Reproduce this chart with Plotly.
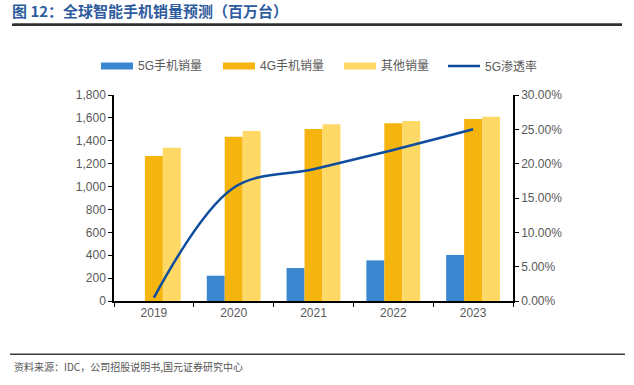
import plotly.graph_objects as go

years = ["2019", "2020", "2021", "2022", "2023"]
sales_5g = [0, 221, 288, 355, 402]
sales_4g = [1267, 1436, 1503, 1553, 1590]
sales_other = [1340, 1485, 1544, 1573, 1610]
pen_5g = [0.005, 0.165, 0.192, 0.220, 0.250]

names = ["5G手机销量", "4G手机销量", "其他销量", "5G渗透率"]
colors = ["#3A86CF", "#F6B40F", "#FFD966", "#0E4D9E"]

W, H = 634, 385
L, R, T, B = 114, 513, 95, 301

def px(x):
    return (x - L) / (R - L)

def py(y):
    return (B - y) / (B - T)

fig = go.Figure()
for vals, nm, c in zip([sales_5g, sales_4g, sales_other], names[:3], colors[:3]):
    fig.add_trace(go.Bar(x=years, y=vals, name=nm, marker=dict(color=c, line=dict(width=0)),
                         showlegend=False))
fig.add_trace(go.Scatter(x=years, y=pen_5g, name=names[3], yaxis="y2", mode="lines",
                         line=dict(color=colors[3], width=2.5, shape="spline", smoothing=1),
                         showlegend=False))

font_family = "Liberation Sans, Arial, Noto Sans CJK SC"
tick_font = dict(family=font_family, size=12, color="#595959")

shapes = [
    dict(type="rect", xref="paper", yref="paper", x0=px(12), x1=px(622), y0=py(26), y1=py(23.5),
         fillcolor="#333333", line=dict(width=0), layer="above"),
    dict(type="rect", xref="paper", yref="paper", x0=px(10), x1=px(625), y0=py(355), y1=py(353.5),
         fillcolor="#3a3a3a", line=dict(width=0)),
]
annotations = [
    dict(text="<b>图 12：全球智能手机销量预测（百万台）</b>", xref="paper", yref="paper",
         x=px(12), y=py(21), xanchor="left", yanchor="bottom", showarrow=False,
         font=dict(family="Noto Sans CJK SC", size=15, color="#2E5C9E"),
         borderpad=0, borderwidth=0, bgcolor="rgba(0,0,0,0)"),
    dict(text="", xref="paper", yref="paper", x=px(622), y=py(24.5), showarrow=True,
         arrowhead=0, arrowwidth=2, arrowcolor="#333333", ax=-610, ay=0,
         standoff=0, startstandoff=0),
    dict(text="资料来源：IDC，公司招股说明书,国元证券研究中心", xref="paper", yref="paper",
         x=px(12), y=py(366), xanchor="left", yanchor="middle", showarrow=False,
         font=dict(family="Noto Sans CJK SC", size=10, color="#555555")),
]

# custom legend
leg_items = [(101, 133, 136), (223, 255, 258), (344, 376, 379), (448, 480, 483)]
for i, (x0, x1, tx) in enumerate(leg_items):
    if i < 3:
        shapes.append(dict(type="rect", xref="paper", yref="paper", x0=px(x0), x1=px(x1),
                           y0=py(69.5), y1=py(62.5), fillcolor=colors[i], line=dict(width=0)))
    else:
        shapes.append(dict(type="line", xref="paper", yref="paper", x0=px(x0), x1=px(x1),
                           y0=py(66), y1=py(66), line=dict(color=colors[i], width=2.5)))
    annotations.append(dict(text=names[i], xref="paper", yref="paper", x=px(tx), y=py(66),
                            xanchor="left", yanchor="middle", showarrow=False,
                            font=dict(family=font_family, size=12, color="#595959")))

fig.update_layout(
    width=W, height=H,
    margin=dict(l=L, r=W - R, t=T, b=H - B, pad=0),
    paper_bgcolor="white", plot_bgcolor="white",
    barmode="group", bargap=0.325, bargroupgap=0,
    showlegend=False,
    xaxis=dict(showline=True, linecolor="#000000", linewidth=1.5, ticks="outside",
               tickson="boundaries", ticklen=4, tickcolor="#000000", showgrid=False,
               tickfont=tick_font),
    yaxis=dict(range=[0, 1800], dtick=200, tickformat=",", showline=True, linecolor="#000000",
               linewidth=1.5, ticks="outside", ticklen=4, tickcolor="#000000", showgrid=False,
               zeroline=False, tickfont=tick_font),
    yaxis2=dict(range=[0, 0.3], dtick=0.05, tickformat=".2%", overlaying="y", side="right",
                showline=True, linecolor="#000000", linewidth=1.5, ticks="outside", ticklen=4,
                tickcolor="#000000", showgrid=False, zeroline=False, tickfont=tick_font),
    shapes=shapes, annotations=annotations,
)

fig.write_html("out.html", config={"displayModeBar": False},
               post_script="document.body.style.margin='0';document.body.style.overflow='hidden';")
